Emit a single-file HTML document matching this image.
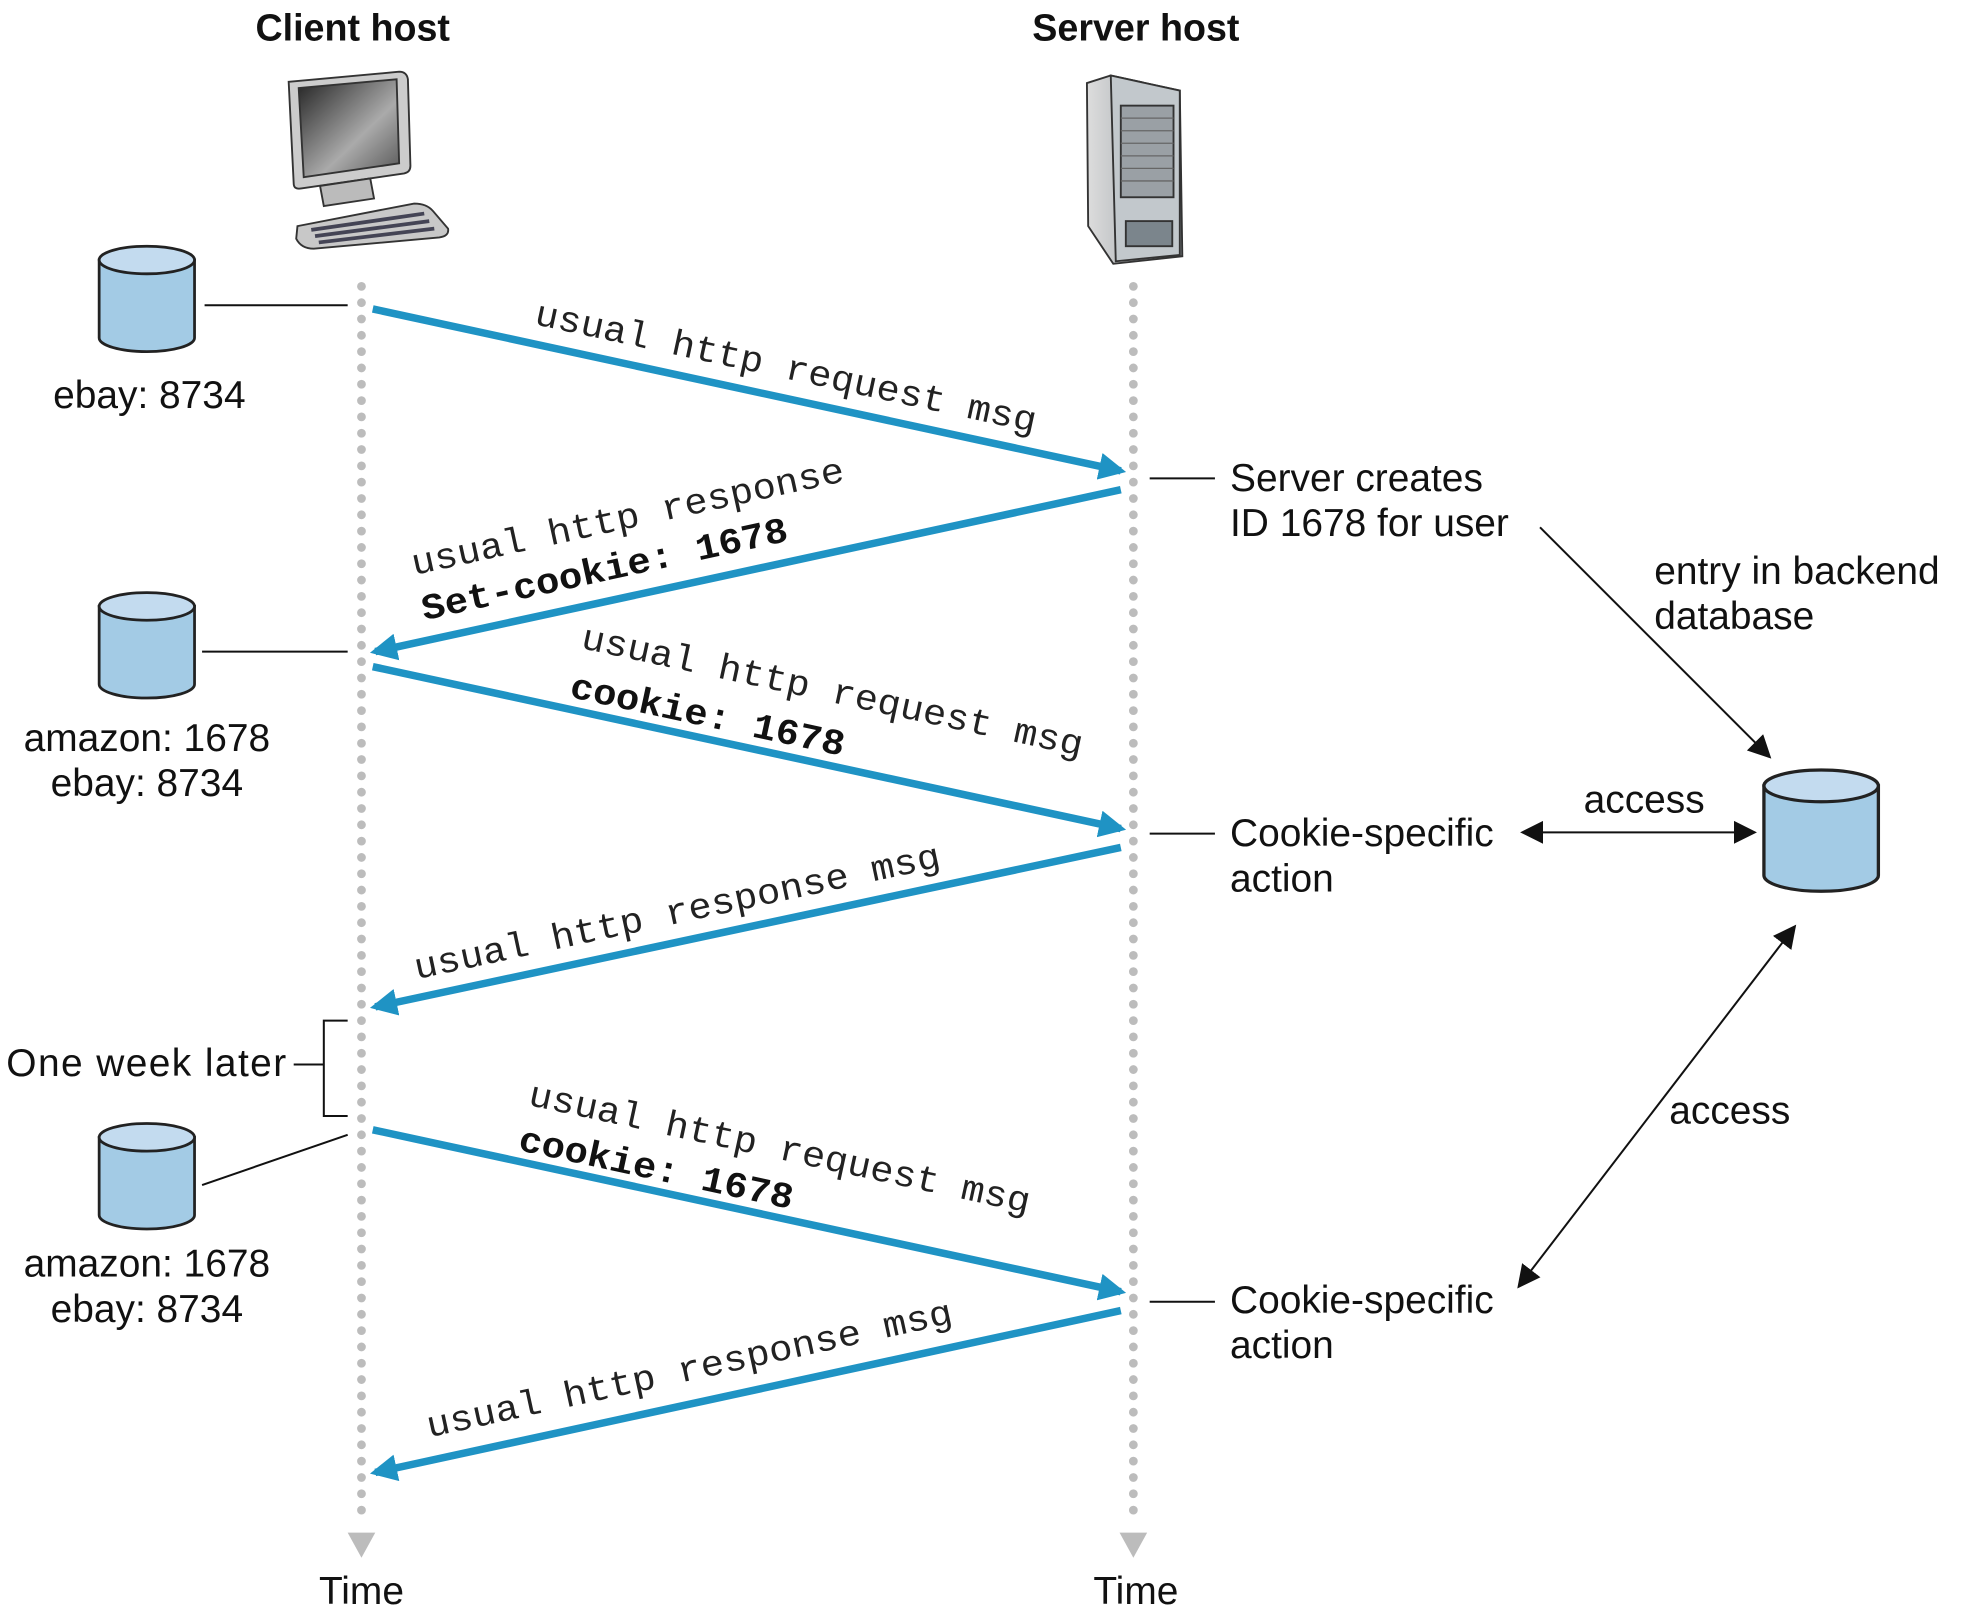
<!DOCTYPE html>
<html><head><meta charset="utf-8"><style>
html,body{margin:0;padding:0;background:#fff}
svg{display:block}
.s{font-family:"Liberation Sans",sans-serif;font-size:31px;fill:#111}
.b{font-weight:bold;font-size:30px}
.m{font-family:"Liberation Mono",monospace;font-size:29px;fill:#222}
.mb{font-family:"Liberation Mono",monospace;font-size:29px;font-weight:bold;fill:#111}
</style></head><body>
<svg width="1968" height="1622" viewBox="0 0 1568 1292" xmlns="http://www.w3.org/2000/svg">
<defs>
<marker id="bh" viewBox="0 0 10 10" refX="8" refY="5" markerWidth="3.6" markerHeight="3.6" orient="auto-start-reverse" markerUnits="strokeWidth"><path d="M0,0 L10,5 L0,10 z" fill="#1f93c4"/></marker>
<marker id="kh" viewBox="0 0 10 10" refX="9" refY="5" markerWidth="11.5" markerHeight="11.5" orient="auto-start-reverse" markerUnits="strokeWidth"><path d="M0,0 L10,5 L0,10 z" fill="#111"/></marker>
<linearGradient id="scr" x1="0" y1="0" x2="1" y2="1"><stop offset="0" stop-color="#222"/><stop offset="0.6" stop-color="#aaa"/><stop offset="1" stop-color="#555"/></linearGradient>
<linearGradient id="srv" x1="0" y1="0" x2="1" y2="0"><stop offset="0" stop-color="#ddd"/><stop offset="1" stop-color="#8d959b"/></linearGradient>
<g id="cyl">
<path d="M-38,0 L-38,62 A38,11 0 0 0 38,62 L38,0 Z" fill="#a3cbe5" stroke="#222" stroke-width="2.2"/>
<ellipse cx="0" cy="0" rx="38" ry="11" fill="#c3dbef" stroke="#222" stroke-width="2.2"/>
</g>
</defs>

<text x="281" y="32" text-anchor="middle" class="s b">Client host</text>
<text x="905" y="32" text-anchor="middle" class="s b">Server host</text>

<g stroke="#333" stroke-width="1.5">
<path d="M230,65 L318,57 Q324,57 325,63 L327,132 Q327,137 322,138 L240,150 Q234,151 234,146 Z" fill="#ccc"/>
<path d="M238,70 L316,63 L318,130 L242,141 Z" fill="url(#scr)"/>
<path d="M255,148 L295,142 L298,158 L258,164 Z" fill="#bbb"/>
<path d="M237,180 L330,162 Q340,162 345,168 L357,182 Q358,188 350,189 L250,198 Q240,198 236,190 Z" fill="#c8c8c8"/>
</g>
<g stroke="#445" stroke-width="3"><line x1="248" y1="183" x2="338" y2="170"/><line x1="251" y1="188" x2="342" y2="176"/><line x1="254" y1="193" x2="346" y2="182"/></g>

<g stroke="#333" stroke-width="1.5">
<path d="M866,66 L885,60 L940,72 L942,204 L887,210 L867,180 Z" fill="url(#srv)"/>
<path d="M885,60 L940,72 L940,203 L889,208 Z" fill="#c2c8cc"/>
<rect x="893" y="84" width="42" height="73" fill="#9aa0a5"/>
<rect x="897" y="176" width="37" height="20" fill="#7b858c"/>
</g>
<g stroke="#666" stroke-width="1"><line x1="893" y1="94" x2="935" y2="94"/><line x1="893" y1="104" x2="935" y2="104"/><line x1="893" y1="114" x2="935" y2="114"/><line x1="893" y1="124" x2="935" y2="124"/><line x1="893" y1="134" x2="935" y2="134"/><line x1="893" y1="144" x2="935" y2="144"/></g>

<line x1="288" y1="228" x2="288" y2="1212" stroke="#bcbcbc" stroke-width="7" stroke-linecap="round" stroke-dasharray="0 13"/>
<line x1="903" y1="228" x2="903" y2="1212" stroke="#bcbcbc" stroke-width="7" stroke-linecap="round" stroke-dasharray="0 13"/>
<path d="M277,1221 L299,1221 L288,1241 Z" fill="#bcbcbc"/>
<path d="M892,1221 L914,1221 L903,1241 Z" fill="#bcbcbc"/>
<text x="288" y="1278" text-anchor="middle" class="s">Time</text>
<text x="905" y="1278" text-anchor="middle" class="s">Time</text>

<use href="#cyl" x="117" y="207"/>
<use href="#cyl" x="117" y="483"/>
<use href="#cyl" x="117" y="906"/>
<g transform="translate(1451,626) scale(1.2,1.15)"><use href="#cyl"/></g>

<g stroke="#111" stroke-width="1.6" fill="none">
<line x1="163" y1="243" x2="277" y2="243"/>
<line x1="161" y1="519" x2="277" y2="519"/>
<line x1="161" y1="944" x2="277" y2="904"/>
<line x1="916" y1="381" x2="968" y2="381"/>
<line x1="916" y1="664" x2="968" y2="664"/>
<line x1="916" y1="1037" x2="968" y2="1037"/>
<path d="M277,813 L258,813 L258,889 L277,889 M234,848 L258,848"/>
<line x1="1227" y1="420" x2="1410" y2="603" marker-end="url(#kh)"/>
<line x1="1213" y1="663" x2="1398" y2="663" marker-start="url(#kh)" marker-end="url(#kh)"/>
<line x1="1430" y1="738" x2="1210" y2="1025" marker-start="url(#kh)" marker-end="url(#kh)"/>
</g>

<text x="119" y="325" text-anchor="middle" class="s">ebay: 8734</text>
<text x="117" y="598" text-anchor="middle" class="s">amazon: 1678</text>
<text x="117" y="634" text-anchor="middle" class="s">ebay: 8734</text>
<text x="117" y="1017" text-anchor="middle" class="s">amazon: 1678</text>
<text x="117" y="1053" text-anchor="middle" class="s">ebay: 8734</text>
<text x="5" y="857" class="s" textLength="223">One week later</text>

<text x="980" y="391" class="s">Server creates</text>
<text x="980" y="427" class="s">ID 1678 for user</text>
<text x="1318" y="465" class="s">entry in backend</text>
<text x="1318" y="501" class="s">database</text>
<text x="980" y="674" class="s">Cookie-specific</text>
<text x="980" y="710" class="s">action</text>
<text x="1310" y="647" text-anchor="middle" class="s">access</text>
<text x="1330" y="895" class="s">access</text>
<text x="980" y="1046" class="s">Cookie-specific</text>
<text x="980" y="1082" class="s">action</text>

<g stroke="#1f93c4" stroke-width="6" fill="none">
<line x1="297" y1="246" x2="893" y2="375" marker-end="url(#bh)"/>
<line x1="893" y1="390" x2="299" y2="519" marker-end="url(#bh)"/>
<line x1="297" y1="531" x2="893" y2="660" marker-end="url(#bh)"/>
<line x1="893" y1="675" x2="299" y2="802" marker-end="url(#bh)"/>
<line x1="297" y1="900" x2="893" y2="1029" marker-end="url(#bh)"/>
<line x1="893" y1="1044" x2="299" y2="1173" marker-end="url(#bh)"/>
</g>

<text class="m" transform="translate(425,258) rotate(12.2)" textLength="408" lengthAdjust="spacingAndGlyphs">usual http request msg</text>
<text class="m" transform="translate(330,458) rotate(-12.3)" textLength="352" lengthAdjust="spacingAndGlyphs">usual http response</text>
<text class="mb" transform="translate(338,494) rotate(-12.3)" textLength="298" lengthAdjust="spacingAndGlyphs">Set-cookie: 1678</text>
<text class="m" transform="translate(462,516) rotate(12.2)" textLength="408" lengthAdjust="spacingAndGlyphs">usual http request msg</text>
<text class="mb" transform="translate(453,555) rotate(12.2)" textLength="223" lengthAdjust="spacingAndGlyphs">cookie: 1678</text>
<text class="m" transform="translate(332,780) rotate(-12.1)" textLength="428" lengthAdjust="spacingAndGlyphs">usual http response msg</text>
<text class="m" transform="translate(420,880) rotate(12.2)" textLength="408" lengthAdjust="spacingAndGlyphs">usual http request msg</text>
<text class="mb" transform="translate(412,916) rotate(12.2)" textLength="223" lengthAdjust="spacingAndGlyphs">cookie: 1678</text>
<text class="m" transform="translate(342,1145) rotate(-12.3)" textLength="428" lengthAdjust="spacingAndGlyphs">usual http response msg</text>
</svg>
</body></html>
